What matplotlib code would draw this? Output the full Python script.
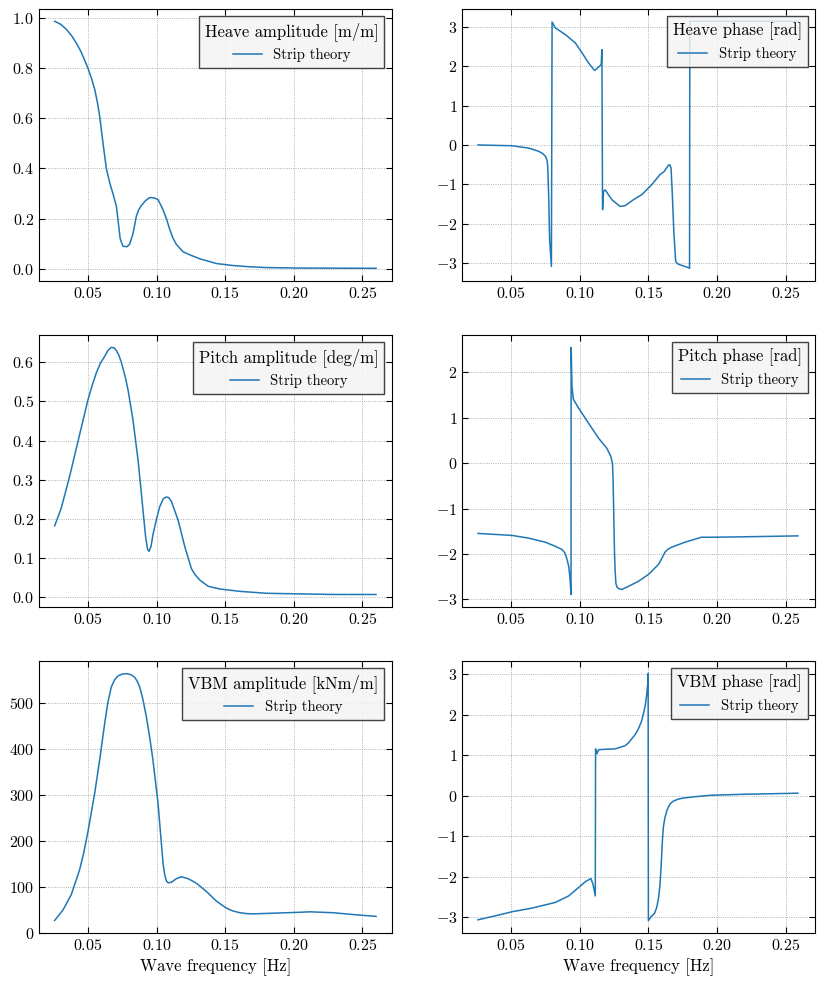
import numpy as np
import matplotlib
matplotlib.use("Agg")
import matplotlib.pyplot as plt

plt.rcParams['font.family'] = 'serif'
plt.rcParams['font.serif'] = ['cmr10']
plt.rcParams['mathtext.fontset'] = 'cm'
plt.rcParams['axes.formatter.use_mathtext'] = True
plt.rcParams['axes.unicode_minus'] = True

# Heave amplitude [m/m]
f_heave_amp = [0.0257, 0.030, 0.0342, 0.038, 0.0415, 0.045, 0.050, 0.0525, 0.055, 0.057,
               0.0585, 0.061, 0.0634, 0.066, 0.0682, 0.0707, 0.072, 0.0735, 0.0755, 0.0785,
               0.0804, 0.0828, 0.0853, 0.087, 0.0889, 0.092, 0.095, 0.098, 0.1011, 0.1047,
               0.1075, 0.1096, 0.112, 0.1145, 0.1193, 0.125, 0.1315, 0.1437, 0.1558, 0.168,
               0.1802, 0.2045, 0.260]
heave_amp = [0.987, 0.975, 0.955, 0.93, 0.90, 0.865, 0.80, 0.76, 0.714, 0.66,
             0.61, 0.50, 0.40, 0.34, 0.30, 0.25, 0.19, 0.12, 0.09, 0.088,
             0.098, 0.14, 0.21, 0.235, 0.252, 0.272, 0.284, 0.283, 0.276, 0.236,
             0.195, 0.157, 0.122, 0.097, 0.068, 0.054, 0.040, 0.021, 0.013, 0.008,
             0.005, 0.003, 0.002]

# Heave phase [rad]
f_heave_ph = [0.0258, 0.0507, 0.0628, 0.070, 0.073, 0.075, 0.0762, 0.0766, 0.0774, 0.078,
              0.0793, 0.0798, 0.0822, 0.0895, 0.0967, 0.1016, 0.1064, 0.1108, 0.1132, 0.1156,
              0.1161, 0.1166, 0.1173, 0.1185, 0.1234, 0.1294, 0.1331, 0.1391, 0.1452, 0.1524,
              0.1585, 0.1616, 0.1645, 0.1655, 0.1665, 0.1674, 0.1686, 0.1699, 0.1715, 0.173,
              0.179, 0.1800, 0.1802, 0.259]
heave_ph = [0.0, -0.02, -0.08, -0.16, -0.22, -0.29, -0.40, -0.54, -1.39, -2.4,
            -3.08, 3.12, 2.97, 2.80, 2.59, 2.34, 2.08, 1.89, 1.96, 2.04,
            2.42, -1.64, -1.18, -1.14, -1.39, -1.56, -1.54, -1.39, -1.26, -1.01,
            -0.75, -0.67, -0.52, -0.50, -0.58, -1.22, -2.24, -2.96, -3.02, -3.04,
            -3.11, -3.13, 3.14, 3.14]

# Pitch amplitude [deg/m]
f_pitch_amp = [0.0257, 0.0305, 0.0366, 0.0439, 0.050, 0.053, 0.0561, 0.059, 0.0622, 0.0645,
               0.067, 0.069, 0.0707, 0.0725, 0.0743, 0.077, 0.0792, 0.0828, 0.0865, 0.0901,
               0.092, 0.0935, 0.0945, 0.096, 0.0974, 0.100, 0.1023, 0.105, 0.1072, 0.109,
               0.1108, 0.1157, 0.1206, 0.1254, 0.128, 0.1315, 0.1376, 0.1461, 0.1607, 0.1802,
               0.2045, 0.2288, 0.260]
pitch_amp = [0.182, 0.227, 0.308, 0.415, 0.504, 0.54, 0.573, 0.597, 0.615, 0.630,
             0.638, 0.637, 0.630, 0.618, 0.600, 0.565, 0.53, 0.453, 0.351, 0.223,
             0.155, 0.122, 0.117, 0.13, 0.16, 0.20, 0.231, 0.252, 0.256, 0.254,
             0.245, 0.197, 0.129, 0.073, 0.058, 0.044, 0.028, 0.021, 0.015, 0.010,
             0.0085, 0.007, 0.007]

# Pitch phase [rad]
f_pitch_ph = [0.0258, 0.0507, 0.0628, 0.075, 0.0822, 0.087, 0.089, 0.090, 0.091, 0.0919,
              0.0926, 0.0931, 0.0936, 0.0937, 0.0943, 0.0953, 0.0992, 0.1064, 0.1137, 0.1197,
              0.1226, 0.1238, 0.1242, 0.1246, 0.1253, 0.1258, 0.1263, 0.127, 0.1282, 0.1306,
              0.1355, 0.1427, 0.150, 0.1573, 0.1597, 0.1621, 0.164, 0.1669, 0.1766, 0.1887,
              0.196, 0.2202, 0.259]
pitch_ph = [-1.546, -1.59, -1.65, -1.74, -1.83, -1.90, -1.97, -2.05, -2.15, -2.27,
            -2.45, -2.64, -2.89, 2.55, 1.68, 1.41, 1.21, 0.88, 0.55, 0.33,
            0.15, 0.0, -0.3, -0.88, -1.98, -2.4, -2.64, -2.72, -2.76, -2.78,
            -2.71, -2.60, -2.45, -2.23, -2.10, -1.96, -1.90, -1.85, -1.74, -1.63,
            -1.63, -1.62, -1.60]

# VBM amplitude [kNm/m]
f_vbm_amp = [0.0257, 0.0318, 0.0378, 0.0439, 0.047, 0.050, 0.0549, 0.0585, 0.0622, 0.0645,
             0.067, 0.0695, 0.0719, 0.075, 0.078, 0.081, 0.0841, 0.086, 0.0877, 0.090,
             0.0926, 0.095, 0.0974, 0.1011, 0.1035, 0.1048, 0.106, 0.1072, 0.1084, 0.1108,
             0.1145, 0.118, 0.123, 0.1291, 0.1364, 0.1437, 0.1509, 0.1555, 0.1607, 0.166,
             0.1704, 0.185, 0.2045, 0.2118, 0.2288, 0.2434, 0.260]
vbm_amp = [27, 50, 83, 137, 175, 220, 303, 375, 455, 500,
           534, 550, 558, 562, 563, 561, 555, 546, 534, 508,
           469, 425, 375, 281, 195, 150, 125, 113, 109, 110,
           118, 122, 118, 108, 90, 69, 54, 48, 44, 42,
           41.5, 43, 45, 46, 44, 40, 36]

# VBM phase [rad]
f_vbm_ph = [0.0258, 0.0386, 0.0507, 0.0653, 0.0822, 0.0919, 0.0992, 0.104, 0.1081, 0.1096,
            0.1113, 0.1115, 0.1125, 0.1137, 0.1185, 0.1258, 0.1331, 0.1355, 0.1379, 0.1405,
            0.1428, 0.145, 0.1464, 0.1478, 0.1488, 0.1495, 0.1498, 0.1500, 0.152, 0.1545,
            0.1561, 0.1575, 0.1585, 0.1595, 0.1602, 0.161, 0.1621, 0.1635, 0.1645, 0.166,
            0.1682, 0.171, 0.1742, 0.1839, 0.196, 0.2202, 0.259]
vbm_ph = [-3.06, -2.96, -2.86, -2.77, -2.63, -2.47, -2.26, -2.12, -2.04, -2.18,
          -2.47, 1.16, 1.04, 1.14, 1.15, 1.16, 1.24, 1.31, 1.41, 1.52,
          1.66, 1.84, 2.03, 2.25, 2.52, 2.75, 3.02, -3.08, -2.98, -2.90,
          -2.75, -2.50, -2.18, -1.60, -1.10, -0.75, -0.53, -0.36, -0.28, -0.19,
          -0.13, -0.09, -0.06, -0.02, 0.016, 0.04, 0.066]

panels = [
    (f_heave_amp, heave_amp, "Heave amplitude [m/m]"),
    (f_heave_ph, heave_ph, "Heave phase [rad]"),
    (f_pitch_amp, pitch_amp, "Pitch amplitude [deg/m]"),
    (f_pitch_ph, pitch_ph, "Pitch phase [rad]"),
    (f_vbm_amp, vbm_amp, "VBM amplitude [kNm/m]"),
    (f_vbm_ph, vbm_ph, "VBM phase [rad]"),
]

fig, axes = plt.subplots(3, 2, figsize=(8.24, 9.85), dpi=100)
fig.subplots_adjust(left=0.0473, right=0.989, top=0.991, bottom=0.0528,
                    wspace=0.2, hspace=0.2)

for ax, (f, y, title) in zip(axes.flat, panels):
    ax.plot(f, y, color='#1f77b4', lw=1.1, label="Strip theory")
    ax.set_xticks([0.05, 0.10, 0.15, 0.20, 0.25])
    ax.set_xlim(0.0143, 0.2714)
    ax.grid(True, linestyle=':', color='#999999', linewidth=0.6)
    ax.tick_params(direction='in', top=True, right=True, labelsize=11.5, length=4)
    leg = ax.legend(title=title, loc='upper right', fancybox=False,
                    edgecolor='#222222', facecolor='#f4f4f4', framealpha=0.85,
                    fontsize=10.5, title_fontsize=12)
    leg.get_frame().set_linewidth(1.0)

axes[0, 1].set_yticks([-3, -2, -1, 0, 1, 2, 3])
axes[1, 1].set_yticks([-3, -2, -1, 0, 1, 2])
axes[2, 1].set_yticks([-3, -2, -1, 0, 1, 2, 3])
axes[2, 0].set_ylim(0, 590)

axes[2, 0].set_xlabel("Wave frequency [Hz]", fontsize=12)
axes[2, 1].set_xlabel("Wave frequency [Hz]", fontsize=12)

fig.savefig("out.png", dpi=100)
